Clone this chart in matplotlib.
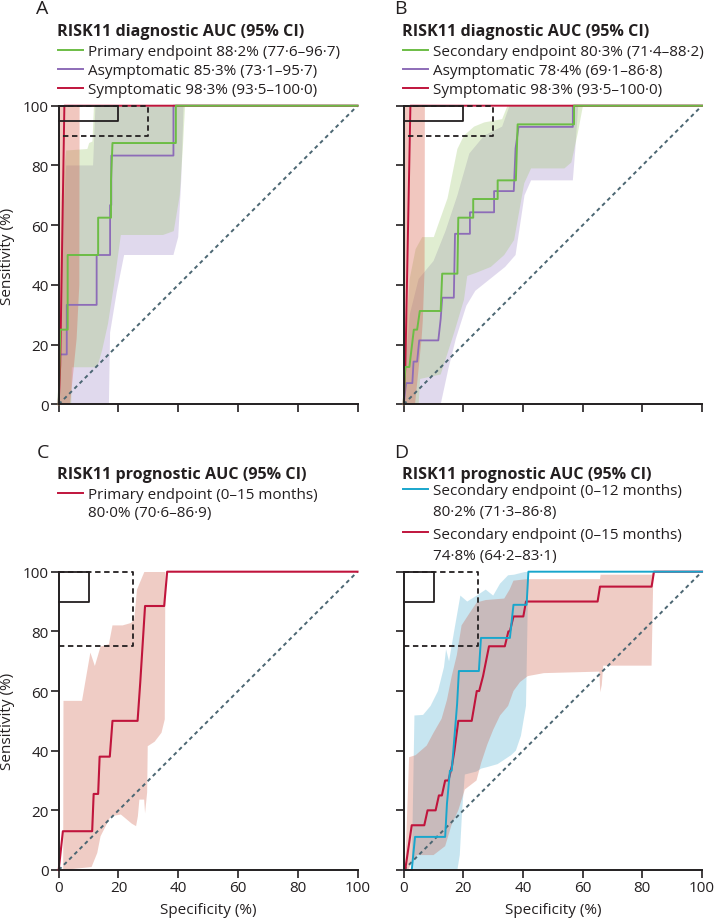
import matplotlib
matplotlib.use('Agg')
import matplotlib.pyplot as plt
from matplotlib.lines import Line2D

plt.rcParams['font.family'] = ['Open Sans', 'DejaVu Sans']

W, H = 714, 920

GREEN = '#6cbd45'
PURPLE = '#8d6cb8'
RED = '#c0143c'
CYAN = '#19a6cc'
DIAG = '#4b6672'
F_GREEN = '#9bc669'
F_PURPLE = '#9b84c6'
F_RED = '#d9604a'
F_RED2 = '#cd5841'
F_CYAN = '#48acd0'

tick_vals = [0, 20, 40, 60, 80, 100]

# ---------------- Panel A data ----------------
a_green_x = [0, 0.5, 3.0, 3.0, 13.2, 13.2, 17.5, 17.5, 18.0, 39.2, 39.2, 100]
a_green_y = [0, 25, 25, 50, 50, 62.5, 62.5, 75, 87.5, 87.5, 100, 100]
a_purple_x = [0, 0.3, 2.7, 2.7, 12.7, 12.7, 17.2, 17.2, 17.6, 17.6, 38.4, 38.4, 100]
a_purple_y = [0, 16.7, 16.7, 33.3, 33.3, 50, 50, 66.7, 66.7, 83.3, 83.3, 100, 100]
a_red_x = [0, 0.5, 1.9, 100]
a_red_y = [0, 13, 100, 100]

a_green_up_x = [0, 1.0, 2.5, 9.6, 10.2, 11.3, 11.8, 100]
a_green_up_y = [25, 70, 85, 85.5, 87.5, 88, 100, 100]
a_green_lo_x = [0, 4.2, 4.4, 12.9, 14.5, 16.5, 18.5, 20.8, 34.9, 38.5, 40.5, 41.5, 42.3, 100]
a_green_lo_y = [0, 0, 12.4, 12.4, 18, 27, 40, 56.7, 56.7, 58, 70, 85, 100, 100]
a_purple_up_x = [0, 1.0, 2.5, 11.5, 12.3, 100]
a_purple_up_y = [15, 55, 80, 80, 100, 100]
a_purple_lo_x = [0, 16.8, 17.2, 19.5, 21.9, 38.4, 40.0, 41.0, 41.8, 100]
a_purple_lo_y = [0, 0, 24, 38, 50, 50, 56, 75, 100, 100]
a_red_up_x = [0, 7.0]
a_red_up_y = [100, 100]
a_red_lo_x = [0, 3.8, 4.6, 6.0, 6.3, 6.9, 7.0]
a_red_lo_y = [0, 0, 8, 22, 28, 40, 100]

# ---------------- Panel B data ----------------
b_green_x = [0, 0.5, 1.9, 3.4, 4.5, 5.4, 12.4, 12.9, 18.0, 18.3, 23.3, 23.3, 31.5, 31.5, 37.6, 38.2, 57.1, 57.1, 100]
b_green_y = [0, 12.5, 12.5, 25, 25, 31.25, 31.25, 43.75, 43.75, 62.5, 62.5, 68.75, 68.75, 75, 75, 93.75, 93.75, 100, 100]
b_purple_x = [0, 0.8, 2.9, 3.3, 4.5, 5.2, 11.6, 12.4, 12.9, 16.8, 17.2, 22.2, 22.2, 30.3, 30.3, 36.9, 37.5, 38.5, 56.7, 56.7, 100]
b_purple_y = [0, 7.1, 7.1, 14.3, 14.3, 21.4, 21.4, 28.6, 35.7, 35.7, 57.1, 57.1, 64.3, 64.3, 71.4, 71.4, 85.7, 92.9, 92.9, 100, 100]
b_red_x = [0, 0.56, 2.25, 100]
b_red_y = [0, 13, 100, 100]

b_green_up_x = [0, 0.5, 2, 4, 6.2, 10.1, 11.5, 14.7, 18, 20.2, 23.6, 27, 33, 34.8, 100]
b_green_up_y = [5, 20, 42, 52, 56, 56, 60, 69, 85.5, 90, 93, 94.4, 95.5, 100, 100]
b_green_lo_x = [0, 5.0, 5.5, 12.4, 16.9, 20.2, 21.3, 24.2, 29.2, 33.7, 37, 40.4, 42.7, 53.9, 56.2, 58.4, 60.1, 100]
b_green_lo_y = [0, 0, 8.5, 10, 24, 35, 43, 44, 46, 50, 55, 74, 79, 79, 81, 91, 100, 100]
b_purple_up_x = [0, 2, 5, 10, 14, 18, 22, 27, 33, 35.5, 100]
b_purple_up_y = [5, 30, 42, 48, 58, 70, 84, 90, 93, 100, 100]
b_purple_lo_x = [0, 12.4, 15, 17.5, 21, 24, 29, 34, 37.5, 40.5, 42.7, 56.7, 57.5, 58.5, 100]
b_purple_lo_y = [0, 0, 12, 22, 33, 38, 42, 46, 50, 70, 75, 75, 85, 100, 100]
b_red_up_x = [0, 7.1]
b_red_up_y = [100, 100]
b_red_lo_x = [0, 3.8, 4.6, 6.0, 6.4, 7.0, 7.1]
b_red_lo_y = [0, 0, 8, 22, 28, 45, 100]

# ---------------- Panel C data ----------------
c_red_x = [0, 1.4, 11.2, 11.7, 13.2, 13.7, 17.1, 18.0, 26.4, 27.3, 28.9, 35.3, 36.3, 100]
c_red_y = [0, 13, 13, 25.5, 25.5, 38, 38, 50, 50, 63, 88.5, 88.5, 100, 100]
c_red_up_x = [1.5, 1.6, 7.8, 10.6, 12.1, 14.0, 16.8, 18.0, 21.4, 24.2, 25.3, 26.2, 28.7, 100]
c_red_up_y = [0, 56.7, 56.7, 72.9, 68.4, 74.9, 75.7, 82, 82, 82.8, 84, 94, 100, 100]
c_red_lo_x = [1.5, 11.0, 12.9, 14.0, 17.4, 20.8, 24.5, 25.9, 26.5, 27.0, 28.6, 28.9, 29.6, 29.8, 32.1, 34.4, 35.5, 35.7, 100]
c_red_lo_y = [0, 1, 5.7, 11.3, 18, 18.6, 15.5, 14.7, 18, 23.6, 23.6, 19, 26, 41.5, 43, 46, 50.5, 100, 100]

# ---------------- Panel D data ----------------
d_cyan_x = [0, 2.7, 3.8, 13.9, 14.5, 15.5, 16.1, 17.9, 18.5, 25.2, 25.9, 35.6, 36.8, 41.2, 41.8, 100]
d_cyan_y = [0, 0, 11.1, 11.1, 22.2, 33.3, 33.3, 55.6, 66.7, 66.7, 77.8, 77.8, 88.9, 88.9, 100, 100]
d_red_x = [0, 0.5, 2.7, 6.9, 8.0, 10.7, 11.8, 12.8, 13.9, 15.0, 16.2, 17.0, 18.3, 22.8, 24.5, 25.3, 26.6, 28.6,
           33.9, 35.1, 35.6, 36.8, 40.1, 41.0, 65.0, 65.8, 83.1, 83.9, 100]
d_red_y = [0, 0, 15, 15, 20, 20, 25, 25, 30, 30, 35, 40, 50, 50, 60, 60, 65, 75,
           75, 80, 80, 85, 85, 90, 90, 95, 95, 100, 100]

d_cyan_up_x = [2.7, 3.6, 6.5, 9.0, 11.5, 13.5, 14.2, 15.2, 16.9, 19.0, 21.3, 24.5, 27.5, 30.0, 32.3, 35.0, 37.0, 41.0, 100]
d_cyan_up_y = [0, 51.8, 52, 55, 60, 68, 74, 70, 80, 92, 90, 92, 94, 92, 96, 98.8, 99, 100, 100]
d_cyan_lo_x = [2.7, 18.0, 18.8, 19.6, 20.5, 24.4, 26, 28, 31.5, 36, 37.6, 39.3, 41, 41.8, 100]
d_cyan_lo_y = [0, 0, 5, 20, 32, 33, 34, 34.5, 35.5, 38.5, 40, 45, 55, 100, 100]
d_red_up_x = [0.5, 1.8, 4.0, 7.7, 10.0, 12.7, 14.5, 16.1, 17.8, 19.4, 22.0, 24.5, 27.5, 33.7, 35.5, 36.8, 41.2, 65.8, 66.0, 83.1, 83.7, 100]
d_red_up_y = [0, 37.8, 38.5, 41.7, 46, 50.7, 57, 65, 72, 82, 86, 89.7, 90.5, 91, 94, 97, 97.5, 97.5, 99, 99, 100, 100]
d_red_lo_x = [0.5, 1.5, 3.0, 4.4, 10, 13.9, 16, 18.3, 20.5, 24.4, 26, 28, 30, 32.3, 35, 36.8, 39, 41.6, 47, 65.6, 65.9, 66.4, 66.9, 75, 83.1, 83.7, 100]
d_red_lo_y = [0, 0, 3, 5, 5, 8, 15, 20, 27, 30, 36, 42, 47, 51.8, 55, 60, 63, 65, 66, 66.5, 59.6, 62, 68.5, 68.5, 68.5, 100, 100]

# ---------------- drawing ----------------
fig = plt.figure(figsize=(W / 100, H / 100), dpi=100)


def px_ax(left, top, right, bottom):
    return fig.add_axes([left / W, 1 - bottom / H, (right - left) / W, (bottom - top) / H])


axA = px_ax(58.7, 106.7, 357.5, 405.3)
axB = px_ax(403.7, 106.7, 702.0, 405.3)
axC = px_ax(58.7, 572.7, 357.5, 871.0)
axD = px_ax(403.7, 572.7, 702.0, 871.0)

FS = 11.0


def band(ax, ux, uy, lx, ly, color, alpha):
    xs = list(ux) + list(lx)[::-1]
    ys = list(uy) + list(ly)[::-1]
    ax.fill(xs, ys, color=color, alpha=alpha, lw=0, zorder=1)


def style(ax, xlabels, ylabels):
    ax.set_xlim(0, 100)
    ax.set_ylim(0, 100)
    for s in ['top', 'right']:
        ax.spines[s].set_visible(False)
    for s in ['left', 'bottom']:
        ax.spines[s].set_linewidth(1.4)
        ax.spines[s].set_color('#231f20')
        ax.spines[s].set_zorder(6)
    ax.set_xticks(tick_vals)
    ax.set_yticks(tick_vals)
    ax.tick_params(direction='out', length=5.8, width=1.2, color='#231f20',
                   labelsize=FS, pad=1.2, labelcolor='#231f20')
    if not xlabels:
        ax.set_xticklabels([])
    if not ylabels:
        ax.set_yticklabels([])
    ax.patch.set_alpha(0)
    ax.plot([0, 100], [0, 100], color=DIAG, lw=1.4, dashes=(2, 1.8), zorder=2)


def boxes(ax, sx, sy, dx, dy):
    ax.plot([0, sx, sx, 0], [100, 100, sy, sy], color='#231f20', lw=1.3, zorder=5, clip_on=False)
    ax.plot([0, dx, dx, 0], [100, 100, dy, dy], color='#231f20', lw=1.3, dashes=(3, 2),
            zorder=5, clip_on=False)


# Panel A
band(axA, a_purple_up_x, a_purple_up_y, a_purple_lo_x, a_purple_lo_y, F_PURPLE, 0.3)
band(axA, a_green_up_x, a_green_up_y, a_green_lo_x, a_green_lo_y, F_GREEN, 0.3)
band(axA, a_red_up_x, a_red_up_y, a_red_lo_x, a_red_lo_y, F_RED, 0.35)
style(axA, False, True)
axA.plot(a_purple_x, a_purple_y, color=PURPLE, lw=1.3, zorder=3, clip_on=False)
axA.plot(a_green_x, a_green_y, color=GREEN, lw=1.4, zorder=3.2, clip_on=False)
axA.plot(a_red_x, a_red_y, color=RED, lw=1.4, zorder=3.1, clip_on=False)
boxes(axA, 20, 95, 30, 90)

# Panel B
band(axB, b_purple_up_x, b_purple_up_y, b_purple_lo_x, b_purple_lo_y, F_PURPLE, 0.3)
band(axB, b_green_up_x, b_green_up_y, b_green_lo_x, b_green_lo_y, F_GREEN, 0.3)
band(axB, b_red_up_x, b_red_up_y, b_red_lo_x, b_red_lo_y, F_RED, 0.35)
style(axB, False, False)
axB.plot(b_purple_x, b_purple_y, color=PURPLE, lw=1.3, zorder=3, clip_on=False)
axB.plot(b_green_x, b_green_y, color=GREEN, lw=1.4, zorder=3.2, clip_on=False)
axB.plot(b_red_x, b_red_y, color=RED, lw=1.4, zorder=3.1, clip_on=False)
boxes(axB, 20, 95, 30, 90)

# Panel C
band(axC, c_red_up_x, c_red_up_y, c_red_lo_x, c_red_lo_y, F_RED2, 0.3)
style(axC, True, True)
axC.plot(c_red_x, c_red_y, color=RED, lw=1.5, zorder=3, clip_on=False)
boxes(axC, 10, 90, 25, 75)

# Panel D
band(axD, d_cyan_up_x, d_cyan_up_y, d_cyan_lo_x, d_cyan_lo_y, F_CYAN, 0.3)
band(axD, d_red_up_x, d_red_up_y, d_red_lo_x, d_red_lo_y, F_RED2, 0.3)
style(axD, True, False)
axD.plot(d_cyan_x, d_cyan_y, color=CYAN, lw=1.4, zorder=3.2, clip_on=False)
axD.plot(d_red_x, d_red_y, color=RED, lw=1.5, zorder=3.1, clip_on=False)
boxes(axD, 10, 90, 25, 75)

# ---------------- text ----------------
TXT = '#231f20'


def ftext(x, y, s, **kw):
    kw.setdefault('color', TXT)
    fig.text(x / W, 1 - y / H, s, **kw)


def fline(x1, x2, y, color):
    fig.add_artist(Line2D([x1 / W, x2 / W], [1 - y / H, 1 - y / H], color=color, lw=1.4))


# panel letters
for lx, ly, lab in [(36, 13.5, 'A'), (394, 13.5, 'B'), (37, 458, 'C'), (394, 458, 'D')]:
    ftext(lx, ly, lab, fontsize=14, va='baseline', ha='left')

title_kw = dict(fontsize=11.6, fontweight='bold', va='baseline', ha='left')
leg_kw = dict(fontsize=FS, va='baseline', ha='left')

# A legend
ftext(57, 36, 'RISK11 diagnostic AUC (95% CI)', **title_kw)
for yy, col, s in [(56, GREEN, 'Primary endpoint 88·2% (77·6–96·7)'),
                   (75, PURPLE, 'Asymptomatic 85·3% (73·1–95·7)'),
                   (94, RED, 'Symptomatic 98·3% (93·5–100·0)')]:
    fline(58, 83, yy - 5.5, col)
    ftext(88, yy, s, **leg_kw)

# B legend
ftext(402, 36, 'RISK11 diagnostic AUC (95% CI)', **title_kw)
for yy, col, s in [(56, GREEN, 'Secondary endpoint 80·3% (71·4–88·2)'),
                   (75, PURPLE, 'Asymptomatic 78·4% (69·1–86·8)'),
                   (94, RED, 'Symptomatic 98·3% (93·5–100·0)')]:
    fline(403, 428, yy - 5.5, col)
    ftext(433, yy, s, **leg_kw)

# C legend
ftext(57, 479, 'RISK11 prognostic AUC (95% CI)', **title_kw)
fline(58, 83, 494, RED)
ftext(88, 499.5, 'Primary endpoint (0–15 months)', **leg_kw)
ftext(88, 517, '80·0% (70·6–86·9)', **leg_kw)

# D legend
ftext(402, 479, 'RISK11 prognostic AUC (95% CI)', **title_kw)
fline(403, 428, 489.5, CYAN)
ftext(433, 495, 'Secondary endpoint (0–12 months)', **leg_kw)
ftext(433, 516, '80·2% (71·3–86·8)', **leg_kw)
fline(403, 428, 533, RED)
ftext(433, 539, 'Secondary endpoint (0–15 months)', **leg_kw)
ftext(433, 560, '74·8% (64·2–83·1)', **leg_kw)

# axis labels
for cy in [(106.7 + 405.3) / 2, (572.7 + 871) / 2]:
    ftext(8, cy, 'Sensitivity (%)', fontsize=FS, rotation=90, va='center', ha='center')
for cx in [(58.7 + 357.5) / 2, (403.7 + 702) / 2]:
    ftext(cx, 911, 'Specificity (%)', fontsize=FS, va='center', ha='center')

fig.savefig('out.png', dpi=100)
